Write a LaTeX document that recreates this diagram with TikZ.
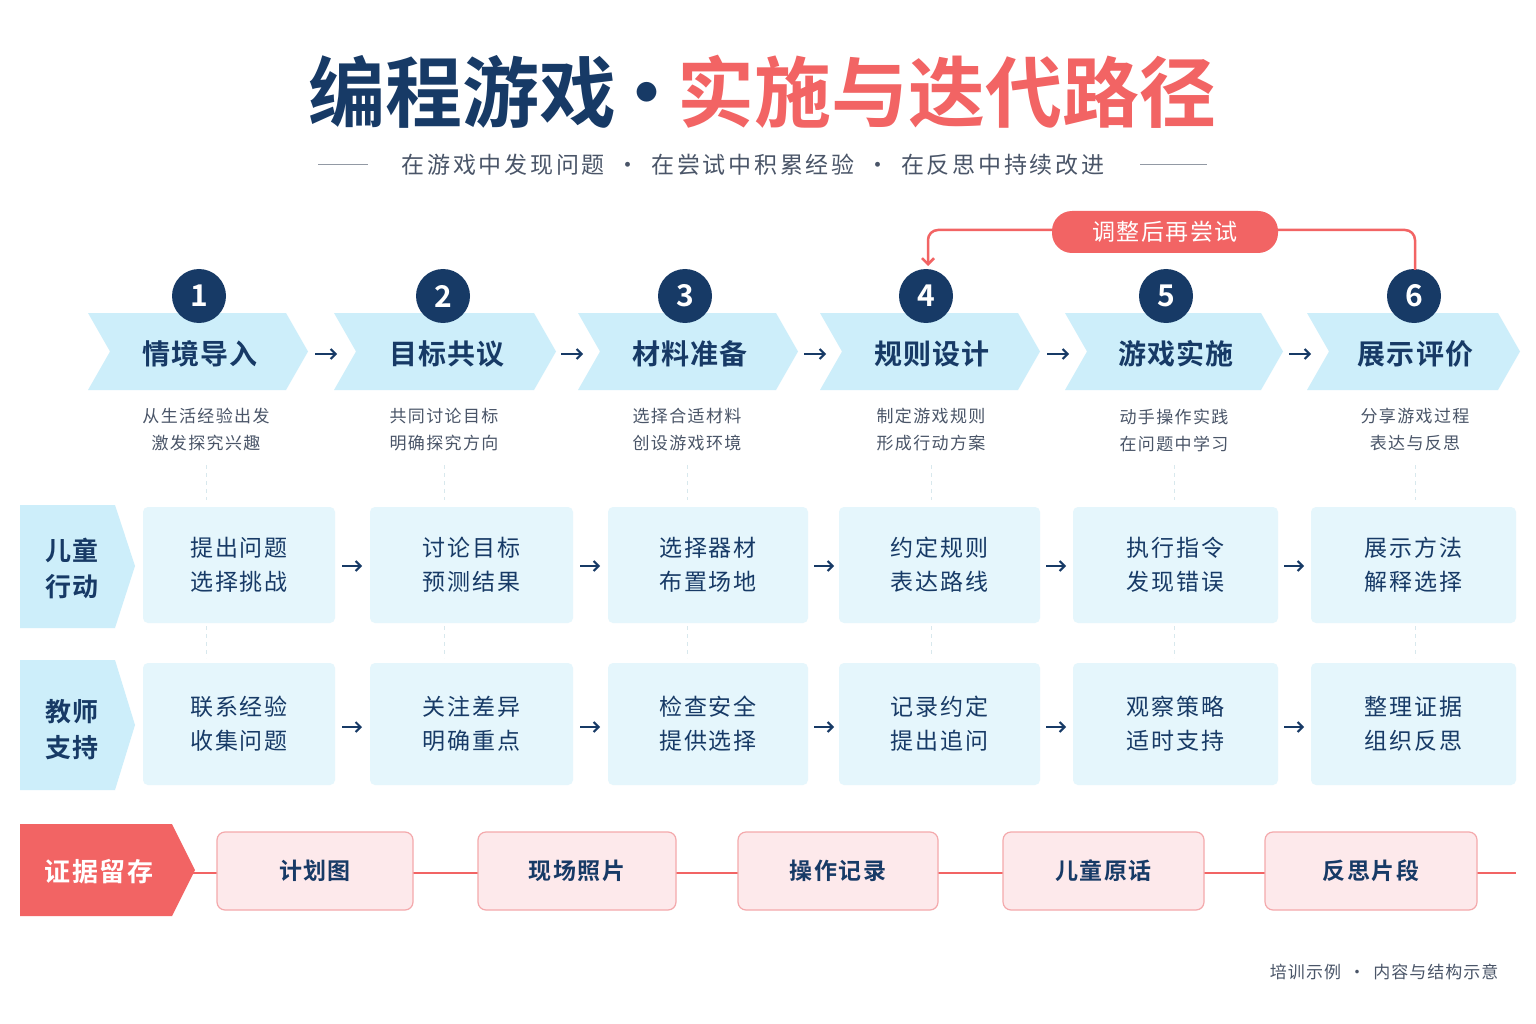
\documentclass[tikz,border=0pt]{standalone}
\usepackage{fontspec}
\setmainfont{Noto Sans CJK SC}[BoldFont={Noto Sans CJK SC Bold}]
\usetikzlibrary{arrows.meta}
\definecolor{navy}{HTML}{173A66}
\definecolor{red1}{HTML}{F26464}
\definecolor{lblue}{HTML}{CDEEFA}
\definecolor{bbox}{HTML}{E5F6FC}
\definecolor{gtxt}{HTML}{4A5568}
\definecolor{pinkf}{HTML}{FDE9EB}
\definecolor{pinkd}{HTML}{F4A9AC}
\begin{document}
\begin{tikzpicture}[x=1pt,y=-1pt,
 num/.style={circle,fill=navy,minimum size=54pt,inner sep=0,text=white,font=\bfseries\fontsize{30}{30}\selectfont},
 ctext/.style={text=navy,font=\bfseries\fontsize{28}{30}\selectfont\addfontfeatures{LetterSpace=4}},
 desc/.style={text=gtxt,align=center,font=\fontsize{17}{27}\selectfont\addfontfeatures{LetterSpace=8}},
 box/.style={fill=bbox,rounded corners=5pt,inner sep=0,text=navy,align=center,font=\fontsize{23}{34}\selectfont\addfontfeatures{LetterSpace=8}},
 ev/.style={fill=pinkf,draw=pinkd,line width=1.2pt,rounded corners=8pt,minimum height=78pt,text=navy,font=\bfseries\fontsize{23}{26}\selectfont\addfontfeatures{LetterSpace=6}},
 arr/.style={-{Straight Barb[length=5pt,width=10pt]},line width=2pt,navy},
 dsh/.style={dash pattern=on 4pt off 4pt,line width=1pt,draw=lblue!80!gray!60},
 rowlab/.style={text=navy,align=center,font=\bfseries\fontsize{26}{36}\selectfont\addfontfeatures{LetterSpace=4}}]
\useasboundingbox (0,0) rectangle (1536,1024);
\fill[white] (0,0) rectangle (1536,1024);
% title
\node (title) at (762,92) {\fontsize{77}{77}\selectfont\bfseries\textcolor{navy}{编程游戏}\hspace{-8pt}\textcolor{navy}{·}\hspace{-8pt}\textcolor{red1}{实施与迭代路径}};
\node (sub) at (753,165) {\color{gtxt}\fontsize{23}{23}\selectfont\addfontfeatures{LetterSpace=12} 在游戏中发现问题 \,·\, 在尝试中积累经验 \,·\, 在反思中持续改进};
\coordinate (l1) at (318,165); \coordinate (l2) at (368,165);
\coordinate (r1) at (1140,165); \coordinate (r2) at (1207,165);
\draw[gtxt!60,line width=1pt] (l1)--(l2) (r1)--(r2);
% chevrons
\foreach \i/\a/\b/\t in {1/88/308/情境导入,2/334/556/目标共议,3/578/798/材料准备,4/820/1040/规则设计,5/1065/1283/游戏实施,6/1307/1520/展示评价}{
 \fill[lblue] (\a,313) -- (\b-22,313) -- (\b,351.5) -- (\b-22,390) -- (\a,390) -- (\a+22,351.5) -- cycle;
 \node[ctext] (c\i) at ({(\a+\b)/2+2},354) {\t};
}
\foreach \i/\x in {1/199,2/443,3/685,4/926,5/1166,6/1414}{\node[num] (n\i) at (\x,296) {\i};}
\foreach \x in {326,572,815,1058,1300}{\coordinate (as\x) at (\x-11,354); \coordinate (ae\x) at (\x+11,354); \draw[arr] (as\x)--(ae\x);}
% feedback
\coordinate (fb1) at (1415,270); \coordinate (fb4) at (928,266);
\draw[red1,line width=2.5pt,rounded corners=10pt,-{Straight Barb[length=6pt,width=12pt]}] (fb1) -- (1415,230) -- (928,230) -- (fb4);
\node[fill=red1,rounded corners=20pt,minimum width=226pt,minimum height=42pt,text=white,font=\fontsize{23}{23}\selectfont\addfontfeatures{LetterSpace=6}] (loop) at (1165,232) {调整后再尝试};
% descriptions
\foreach \i/\x/\t in {1/206/{从生活经验出发\\激发探究兴趣},2/444/{共同讨论目标\\明确探究方向},3/687/{选择合适材料\\创设游戏环境},4/931/{制定游戏规则\\形成行动方案},5/1174/{动手操作实践\\在问题中学习},6/1415/{分享游戏过程\\表达与反思}}{
 \node[desc] (d\i) at (\x,430) {\t};
 \coordinate (da\i) at (\x,465); \coordinate (db\i) at (\x,500);
 \coordinate (dc\i) at (\x,626); \coordinate (dd\i) at (\x,658);
 \draw[dsh] (da\i)--(db\i) (dc\i)--(dd\i);
}
% row labels
\fill[lblue] (20,505) -- (115,505) -- (135,566) -- (115,628) -- (20,628) -- cycle;
\node[rowlab] (rl1) at (72,568) {儿童\\行动};
\fill[lblue] (20,660) -- (115,660) -- (135,725) -- (115,790) -- (20,790) -- cycle;
\node[rowlab] (rl2) at (72,730) {教师\\支持};
% boxes
\foreach \i/\a/\b/\t/\u in {1/143/335/{提出问题\\选择挑战}/{联系经验\\收集问题},2/370/573/{讨论目标\\预测结果}/{关注差异\\明确重点},3/608/808/{选择器材\\布置场地}/{检查安全\\提供选择},4/839/1040/{约定规则\\表达路线}/{记录约定\\提出追问},5/1073/1278/{执行指令\\发现错误}/{观察策略\\适时支持},6/1311/1516/{展示方法\\解释选择}/{整理证据\\组织反思}}{
 \node[box,minimum width={\b-\a},minimum height=116pt] (a\i) at ({(\a+\b)/2},565) {\t};
 \node[box,minimum width={\b-\a},minimum height=122pt] (t\i) at ({(\a+\b)/2},724) {\u};
}
\foreach \x in {352,590,824,1056,1294}{
 \coordinate (p\x) at (\x-10,566); \coordinate (q\x) at (\x+10,566); \draw[arr] (p\x)--(q\x);
 \coordinate (r\x) at (\x-10,727); \coordinate (s\x) at (\x+10,727); \draw[arr] (r\x)--(s\x);
}
% evidence
\coordinate (el) at (190,873); \coordinate (er) at (1516,873);
\draw[red1,line width=2pt] (el)--(er);
\fill[red1] (20,824) -- (172,824) -- (195,870) -- (172,916) -- (20,916) -- cycle;
\node[text=white,font=\bfseries\fontsize{26}{26}\selectfont\addfontfeatures{LetterSpace=6}] (evl) at (99,872) {证据留存};
\foreach \i/\a/\b/\t in {1/217/413/计划图,2/478/676/现场照片,3/738/938/操作记录,4/1003/1204/儿童原话,5/1265/1477/反思片段}{
 \node[ev,minimum width={\b-\a}] (e\i) at ({(\a+\b)/2},871) {\t};
}
\node[anchor=east,text=gtxt,font=\fontsize{17}{17}\selectfont\addfontfeatures{LetterSpace=6}] (foot) at (1502,972) {培训示例 \,·\, 内容与结构示意};
\end{tikzpicture}
\end{document}
